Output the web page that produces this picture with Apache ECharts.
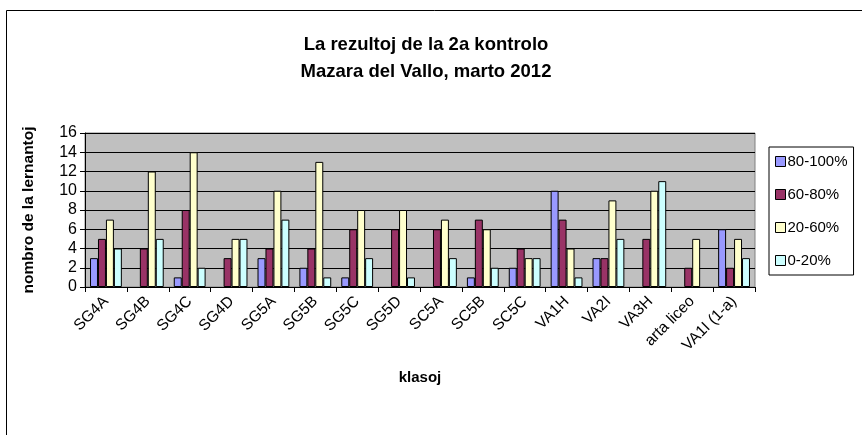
<!DOCTYPE html>
<html>
<head>
<meta charset="utf-8">
<script src="https://cdn.jsdelivr.net/npm/echarts@6/dist/echarts.min.js"></script>
<style>
    html, body { margin: 0; padding: 0; background: #fff; }
    #chart { width: 862px; height: 435px; }
</style>
</head>
<body>
<div id="chart"></div>
<script>
var classes = ['SG4A', 'SG4B', 'SG4C', 'SG4D', 'SG5A', 'SG5B', 'SG5C', 'SG5D',
    'SC5A', 'SC5B', 'SC5C', 'VA1H', 'VA2I', 'VA3H', 'arta liceo', 'VA1I (1-a)'];
var seriesNames = ['80-100%', '60-80%', '20-60%', '0-20%'];
var pct80to100 = [3, 0, 1, 0, 3, 2, 1, 0, 0, 1, 2, 10, 3, 0, 0, 6];
var pct60to80 = [5, 4, 8, 3, 4, 4, 6, 6, 6, 7, 4, 7, 3, 5, 2, 2];
var pct20to60 = [7, 12, 14, 5, 10, 13, 8, 8, 7, 6, 3, 4, 9, 10, 5, 5];
var pct0to20 = [4, 5, 2, 5, 7, 1, 3, 1, 3, 2, 3, 1, 5, 11, 0, 3];
var colors = ['#9999ff', '#993366', '#ffffcc', '#ccffff'];

var chart = echarts.init(document.getElementById('chart'));

function makeSeries(name, data, color) {
    return {
        name: name,
        type: 'bar',
        // empty bars are not drawn at all in the original
        data: data.map(function (v) { return v === 0 ? '-' : v; }),
        barGap: 0,
        barCategoryGap: '24%',
        itemStyle: {
            color: color,
            borderColor: '#000',
            borderWidth: 1
        }
    };
}

var option = {
    animation: false,
    textStyle: { fontFamily: 'Liberation Sans', color: '#000' },
    title: {
        text: 'La rezultoj de la 2a kontrolo\nMazara del Vallo, marto 2012',
        left: 421,
        textAlign: 'center',
        top: 26,
        textStyle: { fontSize: 18.5, fontWeight: 'bold', lineHeight: 27, color: '#000' }
    },
    legend: {
        orient: 'vertical',
        left: 769,
        top: 147,
        itemWidth: 10,
        itemHeight: 10,
        itemGap: 18,
        icon: 'rect',
        borderColor: '#000',
        borderWidth: 1,
        padding: [7, 6, 7, 6],
        textStyle: { fontSize: 15, color: '#000', padding: [0, 0, 0, -3] },
        itemStyle: { borderColor: '#000', borderWidth: 1 },
        data: seriesNames
    },
    grid: {
        left: 85,
        right: 107,
        top: 133,
        bottom: 148,
        show: true,
        backgroundColor: '#c0c0c0',
        borderColor: '#808080',
        borderWidth: 1
    },
    xAxis: {
        type: 'category',
        data: classes,
        name: 'klasoj',
        nameLocation: 'middle',
        nameGap: 83,
        nameTextStyle: { fontSize: 15, fontWeight: 'bold', color: '#000' },
        axisLine: { lineStyle: { color: '#000' } },
        axisTick: { show: true, length: 5, lineStyle: { color: '#000' } },
        axisLabel: { rotate: 45, fontSize: 15.5, color: '#000', margin: 12, interval: 0 }
    },
    yAxis: {
        type: 'value',
        min: 0,
        max: 16,
        interval: 2,
        name: 'nombro de la lernantoj',
        nameLocation: 'middle',
        nameGap: 48,
        nameTextStyle: { fontSize: 15.5, fontWeight: 'bold', color: '#000' },
        axisLine: { show: true, lineStyle: { color: '#000' } },
        axisTick: { show: true, length: 5, lineStyle: { color: '#000' } },
        axisLabel: { fontSize: 16, color: '#000', margin: 8 },
        splitLine: { lineStyle: { color: '#000', width: 1 } }
    },
    graphic: [
        {
            type: 'rect',
            shape: { x: 6.5, y: 10.5, width: 870, height: 440 },
            style: { fill: 'none', stroke: '#000', lineWidth: 1 },
            silent: true
        }
    ],
    series: [
        makeSeries(seriesNames[0], pct80to100, colors[0]),
        makeSeries(seriesNames[1], pct60to80, colors[1]),
        makeSeries(seriesNames[2], pct20to60, colors[2]),
        makeSeries(seriesNames[3], pct0to20, colors[3])
    ]
};

chart.setOption(option);
</script>
</body>
</html>
